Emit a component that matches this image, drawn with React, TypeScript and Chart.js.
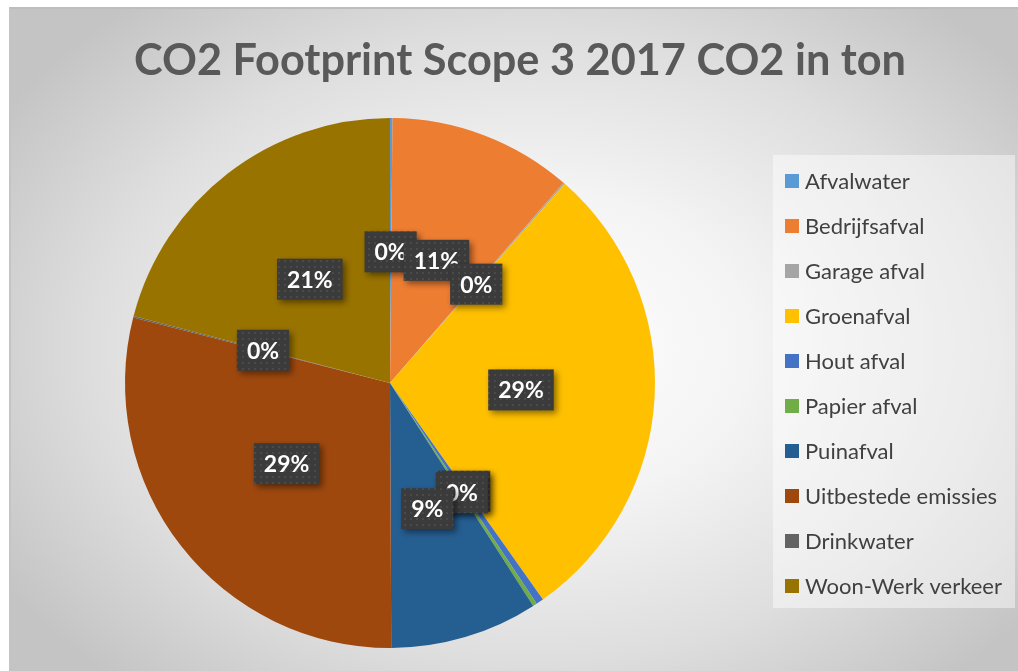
import React, { useEffect, useRef } from "react";
import { Chart, registerables } from "chart.js";

Chart.register(...registerables);

const titleText = "CO2 Footprint Scope 3 2017 CO2 in ton";
const categories = [
  "Afvalwater",
  "Bedrijfsafval",
  "Garage afval",
  "Groenafval",
  "Hout afval",
  "Papier afval",
  "Puinafval",
  "Uitbestede emissies",
  "Drinkwater",
  "Woon-Werk verkeer",
];
const values = [0.15, 11.2, 0.1, 28.7, 0.45, 0.25, 9.0, 29.0, 0.1, 20.9];
const colors = [
  "#5B9BD5",
  "#ED7D31",
  "#A5A5A5",
  "#FFC000",
  "#4472C4",
  "#70AD47",
  "#255E91",
  "#9E480E",
  "#636363",
  "#997300",
];

const FONT = "Lato, 'Open Sans', sans-serif";

function makePattern(ctx: CanvasRenderingContext2D) {
  const c = document.createElement("canvas");
  c.width = 6;
  c.height = 6;
  const p = c.getContext("2d")!;
  p.fillStyle = "#3b3b3b";
  p.fillRect(0, 0, 6, 6);
  p.fillStyle = "#4a4a4a";
  p.fillRect(2, 2, 2, 2);
  return ctx.createPattern(c, "repeat") || "#3f3f3f";
}

const decorPlugin = {
  id: "decor",
  afterDraw(chart: any) {
    const ctx: CanvasRenderingContext2D = chart.ctx;
    ctx.save();
    // title
    ctx.fillStyle = "#595959";
    ctx.font = `bold 44px ${FONT}`;
    ctx.textAlign = "center";
    ctx.textBaseline = "middle";
    ctx.fillText(titleText, 520, 61, 772);

    // legend box
    ctx.fillStyle = "rgba(255,255,255,0.45)";
    ctx.fillRect(773, 155, 242, 453);
    const ds = chart.data.datasets[0];
    chart.data.labels.forEach((lab: string, i: number) => {
      const cy = 181 + i * 45;
      ctx.fillStyle = ds.backgroundColor[i];
      ctx.fillRect(785, cy - 7, 14, 14);
      ctx.fillStyle = "#404040";
      ctx.font = `22px ${FONT}`;
      ctx.textAlign = "left";
      ctx.textBaseline = "middle";
      ctx.fillText(lab, 805, cy + 1);
    });

    // data labels
    const meta = chart.getDatasetMeta(0);
    const data: number[] = ds.data;
    const total = data.reduce((a, b) => a + b, 0);
    const pattern = makePattern(ctx);
    meta.data.forEach((arc: any, i: number) => {
      const { x, y, startAngle, endAngle, outerRadius } = arc.getProps(
        ["x", "y", "startAngle", "endAngle", "outerRadius"],
        true
      );
      const mid = (startAngle + endAngle) / 2;
      const r = outerRadius * 0.495;
      const px = x + Math.cos(mid) * r;
      const py = y + Math.sin(mid) * r;
      const txt = Math.round((data[i] / total) * 100) + "%";
      ctx.font = `bold 23px ${FONT}`;
      const w = ctx.measureText(txt).width + 20;
      const h = 41;
      ctx.save();
      ctx.shadowColor = "rgba(0,0,0,0.45)";
      ctx.shadowBlur = 6;
      ctx.shadowOffsetX = 3;
      ctx.shadowOffsetY = 3;
      ctx.fillStyle = pattern as any;
      ctx.fillRect(px - w / 2, py - h / 2, w, h);
      ctx.restore();
      ctx.fillStyle = "#ffffff";
      ctx.textAlign = "center";
      ctx.textBaseline = "middle";
      ctx.fillText(txt, px, py + 1);
    });
    ctx.restore();
  },
};

export default function App() {
  const ref = useRef<HTMLCanvasElement | null>(null);
  useEffect(() => {
    if (!ref.current) return;
    const chart = new Chart(ref.current, {
      type: "pie",
      data: {
        labels: categories,
        datasets: [
          {
            data: values,
            backgroundColor: colors,
            borderWidth: 0,
          },
        ],
      },
      options: {
        animation: false,
        responsive: false,
        devicePixelRatio: 1,
        layout: { padding: { left: 125, right: 363, top: 118, bottom: 23 } },
        plugins: {
          legend: { display: false },
          title: { display: false },
          tooltip: { enabled: false },
        },
      },
      plugins: [decorPlugin],
    });
    return () => chart.destroy();
  }, []);

  return (
    <div
      style={{
        position: "absolute",
        left: 0,
        top: 0,
        width: 1018,
        height: 671,
        overflow: "hidden",
        background: "#ffffff",
      }}
    >
      <div
        style={{
          position: "absolute",
          left: 9,
          top: 7,
          width: 1040,
          height: 720,
          borderTop: "2px solid #bdbdbd",
          borderLeft: "2px solid #c4c4c4",
          background:
            "radial-gradient(ellipse 60% 62% at 50% 47%, #ffffff 0%, #f4f4f4 35%, #dedede 70%, #c4c4c4 100%)",
        }}
      />
      <canvas
        ref={ref}
        width={1018}
        height={671}
        style={{ position: "absolute", left: 0, top: 0 }}
      />
    </div>
  );
}
